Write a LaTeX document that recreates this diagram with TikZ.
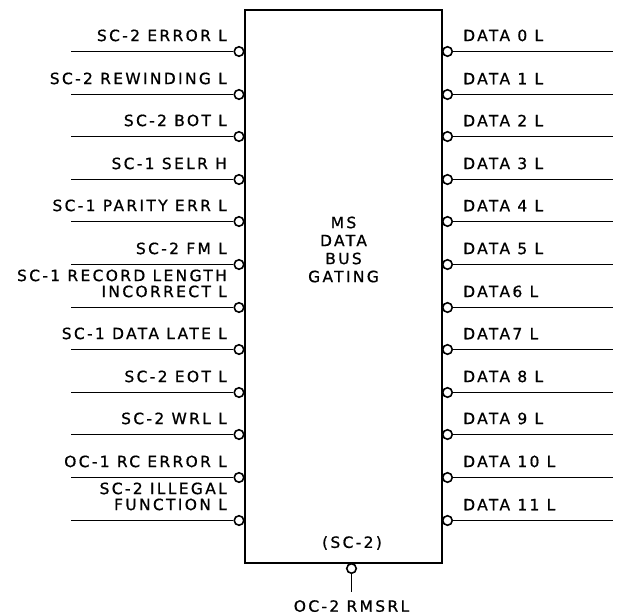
\documentclass[tikz,border=0pt]{standalone}
\usepackage{fontspec}
\setmainfont[LetterSpace=15,FakeBold=0.8]{DejaVu Sans}
\usepackage{tikz}
\usetikzlibrary{
  positioning,
  calc
}

\tikzset{
  bubble/.style={circle,draw,line width=1.6pt,fill=white,inner sep=0pt,minimum size=9.5pt},
  wire/.style={line width=1.2pt},
  sig/.style={font=\fontsize{15.5}{16}\selectfont,inner sep=0pt,align=right},
  sigr/.style={font=\fontsize{15.5}{16}\selectfont,inner sep=0pt,align=left}
}

\begin{document}
\begin{tikzpicture}[x=1pt,y=-1pt]
  \useasboundingbox (0,0) rectangle (623,615);
  % Gating block
  \node[draw,line width=2pt,inner sep=0pt,minimum width=197pt,minimum height=553pt] (gate) at (343.5,286.5) {};
  \node[font=\fontsize{15.5}{18}\selectfont,align=center,inner sep=0pt] (name) at (343.5,249.5) {MS\\DATA\\BUS\\GATING};
  % Left inputs
  \foreach \txt [count=\i from 0, evaluate=\i as \yy using {51.5+round(42.6*\i)}] in {SC-2 ERROR L, SC-2 REWINDING L, SC-2 BOT L, SC-1 SELR H,
      SC-1 PARITY ERR L, SC-2 FM L, {SC-1 RECORD LENGTH\\INCORRECT L}, SC-1 DATA LATE L,
      SC-2 EOT L, SC-2 WRL L, OC-1 RC ERROR L, {SC-2 ILLEGAL\\FUNCTION L}} {
    \node[bubble] (in\i) at (239,\yy) {};
    \coordinate (inend\i) at (71,\yy);
    \draw[wire] (inend\i) -- (in\i);
    \node[sig,anchor=south east] (inlbl\i) at (227,\yy-10) {\txt};
  }
  % Right outputs
  \foreach \txt [count=\i from 0, evaluate=\i as \yy using {51.5+round(42.6*\i)}] in {DATA 0 L, DATA 1 L, DATA 2 L, DATA 3 L, DATA 4 L,
      DATA 5 L, DATA6 L, DATA7 L, DATA 8 L, DATA 9 L, DATA 10 L, DATA 11 L} {
    \node[bubble] (out\i) at (447.5,\yy) {};
    \coordinate (outend\i) at (613,\yy);
    \draw[wire] (out\i) -- (outend\i);
    \node[sigr,anchor=south west] (outlbl\i) at (463,\yy-10) {\txt};
  }
  % Bottom input
  \node[sig] (sel) at (352,543) {(SC-2)};
  \node[bubble] (rms) at (351.5,568.5) {};
  \coordinate (rmsend) at (351.5,592);
  \draw[wire] (rms) -- (rmsend);
  \node[sig,below=8pt of rmsend] (rmslbl) {OC-2 RMSRL};
\end{tikzpicture}
\end{document}
